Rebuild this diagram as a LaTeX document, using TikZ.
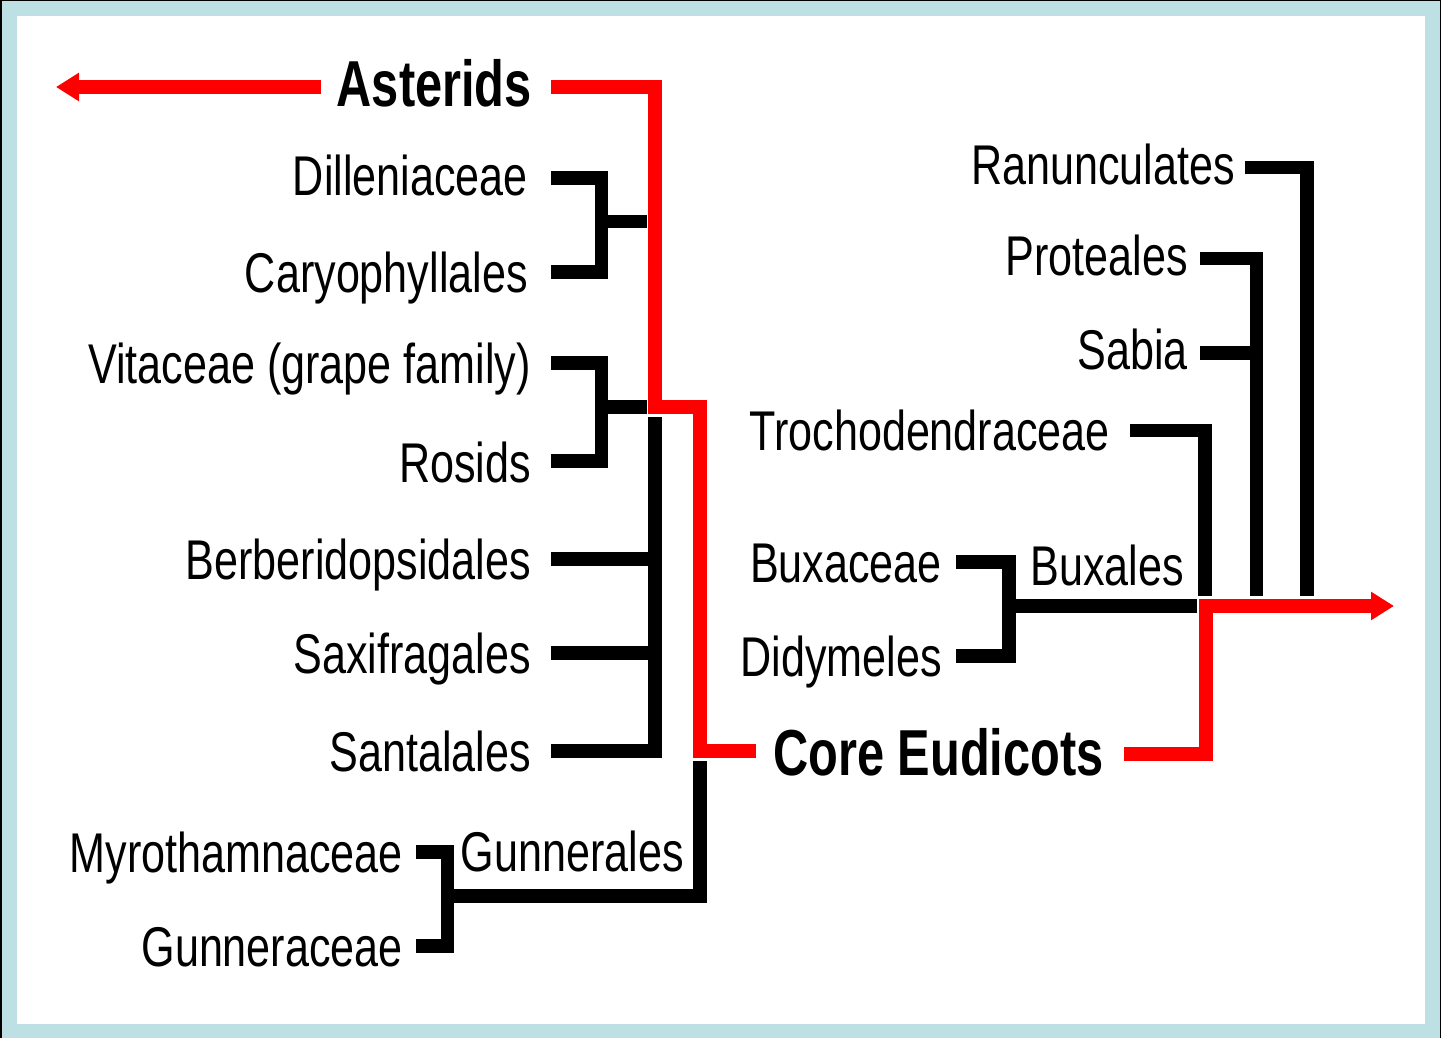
\documentclass[tikz,border=0pt]{standalone}
\usepackage{fontspec}
\setmainfont{Liberation Sans}[FakeStretch=0.77]
\newfontfamily\bfam{Liberation Sans}[FakeStretch=0.75]
\usetikzlibrary{arrows.meta}
\definecolor{framecol}{RGB}{188,224,227}
\definecolor{tred}{RGB}{255,0,0}
\begin{document}
\begin{tikzpicture}[x=1pt,y=-1pt,
  lbl/.style={anchor=base east,inner sep=0pt,font=\fontsize{56}{60}\selectfont},
  blbl/.style={inner sep=0pt,font=\fontsize{65}{70}\selectfont\bfam\bfseries},
  br/.style={line width=13.5pt,line join=miter,black},
  rd/.style={line width=14pt,line join=miter,tred},
  tip/.style={-{Triangle[length=23pt,width=27pt]}}]
% frame
\fill[black] (0,0) rectangle (1441,1038);
\fill[framecol] (2,1) rectangle (1440,1038);
\fill[white] (17,16) rectangle (1425,1024);
\useasboundingbox (0,0) rectangle (1441,1038);

% labels
\node[blbl,anchor=base east] (ast) at (532,107) {Asterids};
\node[lbl] (dil) at (528,196) {Dilleniaceae};
\node[lbl] (car) at (528,292) {Caryophyllales};
\node[lbl] (vit) at (531,383) {Vitaceae (grape family)};
\node[lbl] (ros) at (531,482) {Rosids};
\node[lbl] (ber) at (531,579) {Berberidopsidales};
\node[lbl] (sax) at (531,673) {Saxifragales};
\node[lbl] (san) at (531,771) {Santalales};
\node[lbl] (myr) at (403,872) {Myrothamnaceae};
\node[lbl] (gna) at (403,966) {Gunneraceae};
\node[lbl] (gnl) at (684,871) {Gunnerales};
\node[blbl,anchor=base west] (core) at (773,775) {Core Eudicots};
\node[lbl] (bux) at (942,582) {Buxaceae};
\node[lbl] (did) at (942,676) {Didymeles};
\node[lbl] (bxl) at (1184,585) {Buxales};
\node[lbl] (tro) at (1110,450) {Trochodendraceae};
\node[lbl] (sab) at (1188,369) {Sabia};
\node[lbl] (pro) at (1188,275) {Proteales};
\node[lbl] (ran) at (1235,185) {Ranunculates};

% coordinates
\coordinate (astL) at (321,87);
\coordinate (astTip) at (56,87);
\coordinate (astR) at (551,87);
\coordinate (r1) at (655,87);
\coordinate (r2) at (655,407);
\coordinate (r3) at (700,407);
\coordinate (r4) at (700,751);
\coordinate (coreL) at (756,751);
\coordinate (coreR) at (1124,754);
\coordinate (q1) at (1205.5,754);
\coordinate (q2) at (1205.5,606);
\coordinate (eTip) at (1394,606);

\coordinate (dilE) at (551,178);
\coordinate (carE) at (551,272);
\coordinate (dcJ) at (601.5,178);
\coordinate (dcK) at (601.5,272);
\coordinate (dcM) at (608,221.5);
\coordinate (dcN) at (647,221.5);

\coordinate (vitE) at (551,363);
\coordinate (rosE) at (551,461);
\coordinate (vrJ) at (601.5,363);
\coordinate (vrK) at (601.5,461);
\coordinate (vrM) at (608,407);
\coordinate (vrN) at (647,407);

\coordinate (vTop) at (655,417);
\coordinate (vBot) at (655,751);
\coordinate (sanE) at (551,751);
\coordinate (berE) at (551,559);
\coordinate (berV) at (649,559);
\coordinate (saxE) at (551,653);
\coordinate (saxV) at (649,653);

\coordinate (gTop) at (700,761);
\coordinate (gBot) at (700,896);
\coordinate (gJ) at (453,896);
\coordinate (myrE) at (416,852);
\coordinate (gnaE) at (416,946);
\coordinate (mgJ) at (447.5,852);
\coordinate (mgK) at (447.5,946);

\coordinate (buxE) at (956,562);
\coordinate (didE) at (956,656);
\coordinate (bdJ) at (1009,562);
\coordinate (bdK) at (1009,656);
\coordinate (bdM) at (1015,606);
\coordinate (bdN) at (1197,606);

\coordinate (troE) at (1130,430.5);
\coordinate (troJ) at (1205,430.5);
\coordinate (troB) at (1205,596);
\coordinate (proE) at (1200,258.5);
\coordinate (proJ) at (1256.5,258.5);
\coordinate (proB) at (1256.5,596);
\coordinate (sabE) at (1200,353);
\coordinate (sabJ) at (1250,353);
\coordinate (ranE) at (1245,167.5);
\coordinate (ranJ) at (1307,167.5);
\coordinate (ranB) at (1307,596);

% black brackets
\draw[br] (dilE) -- (dcJ) -- (dcK) -- (carE);
\draw[br] (dcM) -- (dcN);
\draw[br] (vitE) -- (vrJ) -- (vrK) -- (rosE);
\draw[br] (vrM) -- (vrN);
\draw[br] (vTop) -- (vBot) -- (sanE);
\draw[br] (berE) -- (berV);
\draw[br] (saxE) -- (saxV);
\draw[br] (gTop) -- (gBot) -- (gJ);
\draw[br] (myrE) -- (mgJ) -- (mgK) -- (gnaE);
\draw[br] (buxE) -- (bdJ) -- (bdK) -- (didE);
\draw[br] (bdM) -- (bdN);
\draw[br] (troE) -- (troJ) -- (troB);
\draw[br] (proE) -- (proJ) -- (proB);
\draw[br] (sabE) -- (sabJ);
\draw[br] (ranE) -- (ranJ) -- (ranB);

% red lines
\draw[rd,tip] (astL) -- (astTip);
\draw[rd] (astR) -- (r1) -- (r2) -- (r3) -- (r4) -- (coreL);
\draw[rd,tip] (coreR) -- (q1) -- (q2) -- (eTip);
\end{tikzpicture}
\end{document}
